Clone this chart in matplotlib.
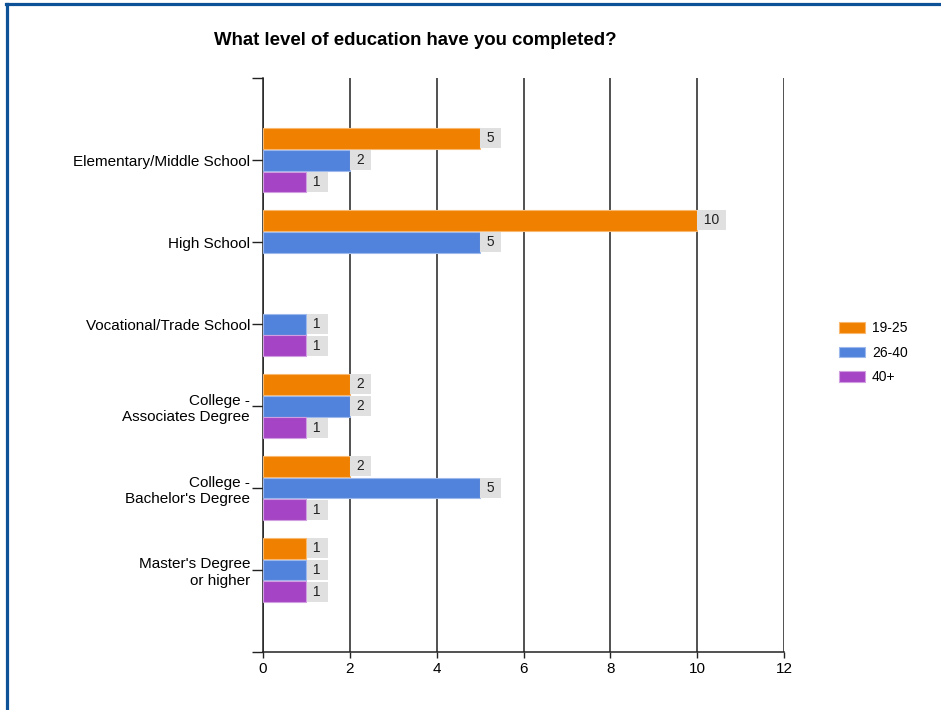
import numpy as np
import matplotlib.pyplot as plt
from matplotlib.lines import Line2D

plt.rcParams['font.family'] = ['Liberation Sans', 'DejaVu Sans']

# Survey answers per age group
categories = ['Elementary/Middle School', 'High School', 'Vocational/Trade School',
              'College -\nAssociates Degree', "College -\nBachelor's Degree",
              "Master's Degree\nor higher"]
groups = ['19-25', '26-40', '40+']
age_19_25 = [5, 10, 0, 2, 2, 1]
age_26_40 = [2, 5, 1, 2, 5, 1]
age_40_plus = [1, 0, 1, 1, 1, 1]
x_ticks = [0, 2, 4, 6, 8, 10, 12]

colors = ['#f08000', '#5283dc', '#a544c4']
edges = ['#f9b870', '#9db8ec', '#d29ee2']

fig = plt.figure(figsize=(9.41, 7.10), dpi=100)
ax = fig.add_axes([0.2795, 0.0817, 0.5537, 0.8084])

pos = np.arange(1, len(categories) + 1)
bar_h = 0.256
offsets = [-0.268, 0, 0.268]
series = [age_19_25, age_26_40, age_40_plus]

for vals, off, col, ec, name in zip(series, offsets, colors, edges, groups):
    vals = np.array(vals)
    keep = vals > 0
    ax.barh(pos[keep] + off, vals[keep], height=bar_h, color=col,
            edgecolor=ec, linewidth=0.8, label=name, zorder=3)
    for y, v in zip(pos[keep] + off, vals[keep]):
        ax.annotate(f' {v} ', xy=(v, y), xytext=(2.2, 0), textcoords='offset points',
                    ha='left', va='center', fontsize=10, color='#222222', zorder=4,
                    bbox=dict(boxstyle='square,pad=0.2', fc='#e0e0e0', ec='none'))

ax.set_xlim(0, 12)
ax.set_ylim(7, 0)
ax.set_xticks(x_ticks)
ax.set_xticklabels([str(t) for t in x_ticks], fontsize=11)
ax.set_yticks([0] + list(pos) + [7])
ax.set_yticklabels([''] + categories + [''], fontsize=11)
ax.tick_params(axis='y', length=8, width=1, pad=1.3, color='#222222')
ax.tick_params(axis='x', length=4, width=1, pad=3, color='#222222')

ax.grid(axis='x', color='#222222', linewidth=1.1, zorder=0)
ax.set_axisbelow(True)
for s in ['top', 'right']:
    ax.spines[s].set_visible(False)
for s in ['left', 'bottom']:
    ax.spines[s].set_color('#222222')
    ax.spines[s].set_linewidth(1.1)

ax.set_title('What level of education have you completed?', fontsize=13.4,
             fontweight='bold', x=0.292, y=1.0, pad=24)

fig.legend(loc='upper left', bbox_to_anchor=(0.878, 0.565), frameon=False,
           fontsize=10, handlelength=1.9, handleheight=0.8, labelspacing=0.75,
           handletextpad=0.5)

# blue border along the top and left edges
fig.add_artist(Line2D([0.0066, 1.0], [0.9937, 0.9937], color='#0d5196', linewidth=2.3))
fig.add_artist(Line2D([0.0071, 0.0071], [0.0, 0.9937], color='#0d5196', linewidth=2.3))

plt.savefig('out.png', dpi=100)
